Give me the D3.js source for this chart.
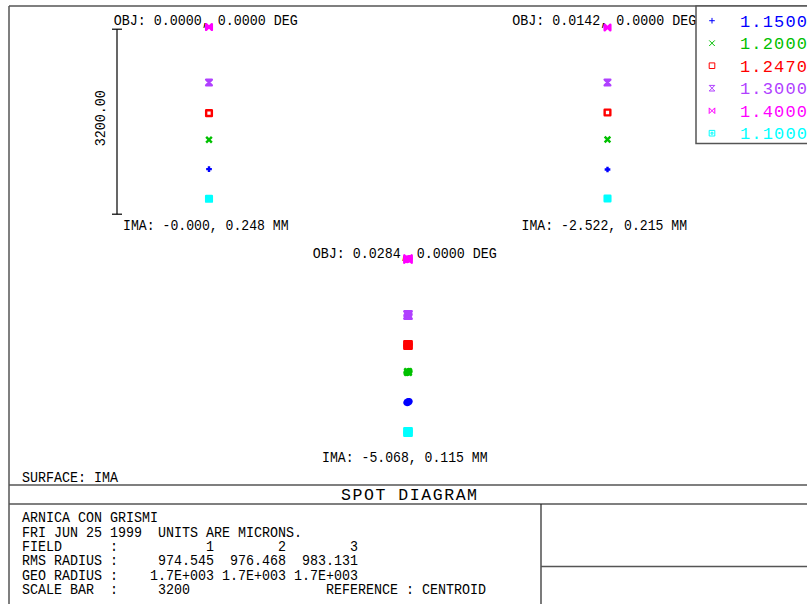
<!DOCTYPE html>
<html>
<head>
<meta charset="utf-8">
<script src="https://cdn.jsdelivr.net/npm/d3@7"></script>
<style>
  body { margin: 0; background: #fff; }
  svg { display: block; }
  text { font-family: "Liberation Mono", "DejaVu Sans Mono", monospace; white-space: pre; }
</style>
</head>
<body>
<svg id="chart"></svg>
<script>
// wavelengths (microns) in legend order
const wavelengths = ['1.1500', '1.2000', '1.2470', '1.3000', '1.4000', '1.1000'];
const waveColors = ['#0000ff', '#00c000', '#ff0000', '#b040ff', '#ff00ff', '#00ffff'];
const waveMarkers = ['plus', 'cross', 'square', 'hourglass', 'bowtie', 'boxdot'];

// fields
const fieldObjX = ['0.0000', '0.0142', '0.0284'];
const fieldObjY = ['0.0000', '0.0000', '0.0000'];
const fieldImaX = ['-0.000', '-2.522', '-5.068'];
const fieldImaY = ['0.248', '0.215', '0.115'];

// spot centre offsets from centroid, microns (up = +), same order as wavelengths
const field1Y = [-820, -313, 149, 678, 1637, -1334];
const field2Y = [-827, -308, 159, 678, 1629, -1328];
const field3Y = [-827, -308, 159, 678, 1646, -1346];
const fieldSpread = [140, 140, 170]; // spot size in microns

const rmsRadius = ['974.545', '976.468', '983.131'];
const geoRadius = ['1.7E+003', '1.7E+003', '1.7E+003'];
const scaleBar = 3200;

var W = 807, H = 604;
var svg = d3.select('#chart').attr('width', W).attr('height', H);
svg.append('rect').attr('width', W).attr('height', H).attr('fill', '#fff');

var frame = '#555';
function line(x1, y1, x2, y2, c, w) {
    svg.append('line').attr('x1', x1).attr('y1', y1).attr('x2', x2).attr('y2', y2)
        .attr('stroke', c || frame).attr('stroke-width', w || 1.5);
}
// outer frame and title block
line(9, 6, W, 6);
line(9, 6, 9, H);
line(9, 485, W, 485);
line(9, 504, W, 504);
line(541, 504, 541, H, '#222', 1.2);
line(541, 566.5, W, 566.5);

// scale: microns -> pixel offset from field centre
var yOff = d3.scaleLinear().domain([-scaleBar / 2, scaleBar / 2]).range([92.5, -92.5]);
var pxPer = Math.abs(yOff(1) - yOff(0));

var fieldCenters = [[209, 121.7], [607.5, 121.7], [408, 354.2]];
var fieldYs = [field1Y, field2Y, field3Y];

function markerPath(type, h) {
    var p = d3.path();
    if (type === 'plus') {
        p.moveTo(-h, 0); p.lineTo(h, 0); p.moveTo(0, -h); p.lineTo(0, h);
    } else if (type === 'cross') {
        p.moveTo(-h, -h); p.lineTo(h, h); p.moveTo(-h, h); p.lineTo(h, -h);
    } else if (type === 'square') {
        p.rect(-h, -h, 2 * h, 2 * h);
    } else if (type === 'hourglass') {
        p.moveTo(-h, -h); p.lineTo(h, -h); p.lineTo(-h, h); p.lineTo(h, h); p.closePath();
    } else if (type === 'bowtie') {
        p.moveTo(-h, -h); p.lineTo(-h, h); p.lineTo(h, -h); p.lineTo(h, h); p.closePath();
    } else {
        p.rect(-h, -h, 2 * h, 2 * h);
        p.rect(-h / 3, -h / 3, 2 * h / 3, 2 * h / 3);
    }
    return p.toString();
}

// field labels
fieldCenters.forEach(function(c, i) {
    svg.append('text')
        .attr('x', c[0] - 95.2).attr('y', c[1] - 96.3)
        .attr('font-size', 15).attr('fill', '#000')
        .attr('textLength', 184).attr('lengthAdjust', 'spacingAndGlyphs')
        .text('OBJ: ' + fieldObjX[i] + ', ' + fieldObjY[i] + ' DEG');
    svg.append('text')
        .attr('x', c[0] - 85.9).attr('y', c[1] + 107.9)
        .attr('font-size', 15).attr('fill', '#000')
        .attr('textLength', 165.5).attr('lengthAdjust', 'spacingAndGlyphs')
        .text('IMA: ' + fieldImaX[i] + ', ' + fieldImaY[i] + ' MM');
});

// scale bar on first field
var sbx = 117, c0 = fieldCenters[0];
line(sbx, c0[1] + yOff(scaleBar / 2), sbx, c0[1] + yOff(-scaleBar / 2), '#000', 1.2);
line(sbx - 5, c0[1] + yOff(scaleBar / 2), sbx + 5, c0[1] + yOff(scaleBar / 2), '#000', 1.2);
line(sbx - 5, c0[1] + yOff(-scaleBar / 2), sbx + 5, c0[1] + yOff(-scaleBar / 2), '#000', 1.2);
svg.append('text')
    .attr('transform', 'translate(105,' + (c0[1] - 3.5) + ') rotate(-90)')
    .attr('text-anchor', 'middle').attr('font-size', 15)
    .attr('textLength', 56).attr('lengthAdjust', 'spacingAndGlyphs')
    .text(scaleBar.toFixed(2));

// spots
var filled = { hourglass: true, bowtie: true, boxdot: true };
fieldCenters.forEach(function(c, fi) {
    var g = svg.append('g');
    var size = fieldSpread[fi] * pxPer;
    fieldYs[fi].forEach(function(v, wi) {
        var cy = c[1] + yOff(v);
        var s = g.append('g').attr('transform', 'translate(' + c[0] + ',' + cy + ')');
        if (fi === 2) {
            s.append('ellipse').attr('rx', size / 2).attr('ry', size / 2 * 0.8)
                .attr('transform', 'rotate(-25)').attr('fill', waveColors[wi]);
        }
        s.append('path').attr('d', markerPath(waveMarkers[wi], size / 2 - 1.2))
            .attr('fill', filled[waveMarkers[wi]] ? waveColors[wi] : 'none')
            .attr('stroke', waveColors[wi])
            .attr('stroke-width', 2.4).attr('stroke-linejoin', 'round');
    });
});

// legend
var legend = svg.append('g');
legend.append('rect').attr('x', 696).attr('y', 6).attr('width', 130).attr('height', 137.5)
    .attr('fill', '#fff').attr('stroke', frame).attr('stroke-width', 1.5);
wavelengths.forEach(function(w, i) {
    var cy = 20.7 + i * 22.5;
    legend.append('path').attr('transform', 'translate(712,' + cy + ')')
        .attr('d', markerPath(waveMarkers[i], 2.8))
        .attr('fill', 'none').attr('stroke', waveColors[i]).attr('stroke-width', 1);
    legend.append('text').attr('x', 740).attr('y', cy + 6)
        .attr('font-size', 17).attr('fill', waveColors[i])
        .attr('textLength', 67).attr('lengthAdjust', 'spacing')
        .text(w);
});

// title block text
svg.append('text').attr('x', 22).attr('y', 482).attr('font-size', 14)
    .attr('textLength', 96).attr('lengthAdjust', 'spacingAndGlyphs').text('SURFACE: IMA');
svg.append('text').attr('x', 409).attr('y', 499.5).attr('text-anchor', 'middle')
    .attr('font-size', 16.5).attr('textLength', 136).attr('lengthAdjust', 'spacing')
    .text('SPOT DIAGRAM');

function row(label, vals, first) {
    return label.padEnd(11) + ':' + vals.map(function(v, i) {
        return v.padStart(i === 0 ? first : 9);
    }).join('');
}
var infoLines = [
    'ARNICA CON GRISMI',
    'FRI JUN 25 1999  UNITS ARE MICRONS.',
    row('FIELD', ['1', '2', '3'], 12),
    row('RMS RADIUS', rmsRadius, 12),
    row('GEO RADIUS', geoRadius, 12),
    row('SCALE BAR', [String(scaleBar)], 9) + ' '.repeat(17) + 'REFERENCE : CENTROID'
];
var lineY = [521.7, 536.5, 551, 565.3, 579.7, 594.2];
svg.selectAll('.info').data(infoLines).enter().append('text')
    .attr('class', 'info')
    .attr('x', 22).attr('y', (d, i) => lineY[i])
    .attr('font-size', 13.8).attr('fill', '#000')
    .attr('textLength', d => d.length * 8).attr('lengthAdjust', 'spacingAndGlyphs')
    .text(d => d);
</script>
</body>
</html>
